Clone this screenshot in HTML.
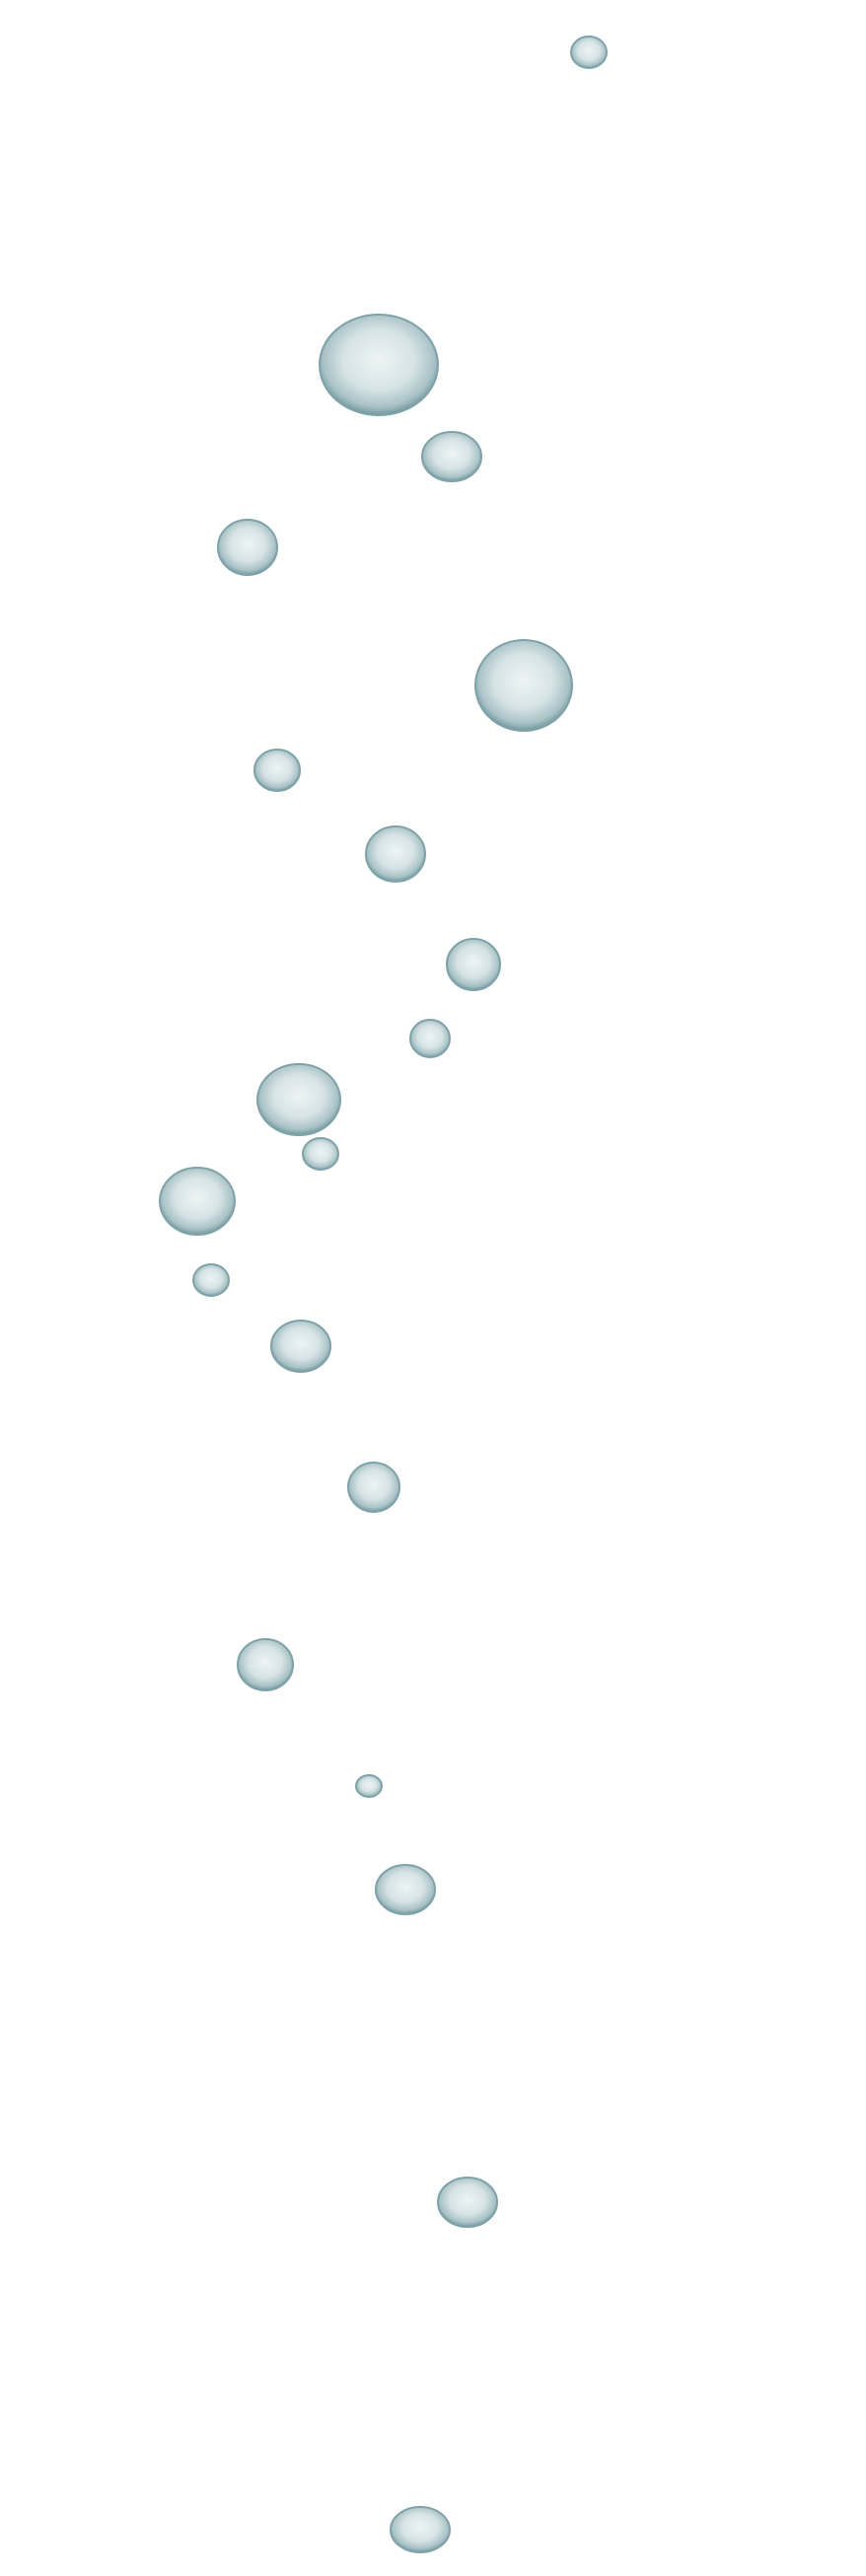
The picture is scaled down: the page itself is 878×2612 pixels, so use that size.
<!DOCTYPE html>
<html><head><meta charset="utf-8"><style>
html,body{margin:0;padding:0;background:#fff;}
svg{display:block;}
</style></head><body>
<svg width="878" height="2612" viewBox="0 0 878 2612" xmlns="http://www.w3.org/2000/svg">
<defs>
<radialGradient id="b" cx="50%" cy="45%" r="55%">
<stop offset="0" stop-color="#eef4f5"/>
<stop offset="0.55" stop-color="#d6e3e5"/>
<stop offset="0.85" stop-color="#a9c2c6"/>
<stop offset="1" stop-color="#6f979d"/>
</radialGradient>
</defs>
<g fill="url(#b)" stroke="#7ea2a7" stroke-width="2" transform="translate(-6,0)">
<ellipse cx="603" cy="53" rx="18" ry="16"/>
<ellipse cx="390" cy="370" rx="60" ry="51"/>
<ellipse cx="464" cy="463" rx="30" ry="25"/>
<ellipse cx="257" cy="555" rx="30" ry="28"/>
<ellipse cx="537" cy="695" rx="49" ry="46"/>
<ellipse cx="287" cy="781" rx="23" ry="21"/>
<ellipse cx="407" cy="866" rx="30" ry="28"/>
<ellipse cx="486" cy="978" rx="27" ry="26"/>
<ellipse cx="442" cy="1053" rx="20" ry="19"/>
<ellipse cx="309" cy="1115" rx="42" ry="36"/>
<ellipse cx="331" cy="1170" rx="18" ry="16"/>
<ellipse cx="206" cy="1218" rx="38" ry="34"/>
<ellipse cx="220" cy="1298" rx="18" ry="16"/>
<ellipse cx="311" cy="1365" rx="30" ry="26"/>
<ellipse cx="385" cy="1508" rx="26" ry="25"/>
<ellipse cx="275" cy="1688" rx="28" ry="26"/>
<ellipse cx="380" cy="1811" rx="13" ry="11"/>
<ellipse cx="417" cy="1916" rx="30" ry="25"/>
<ellipse cx="480" cy="2233" rx="30" ry="25"/>
<ellipse cx="432" cy="2565" rx="30" ry="23"/>
</g>
</svg>
</body></html>
